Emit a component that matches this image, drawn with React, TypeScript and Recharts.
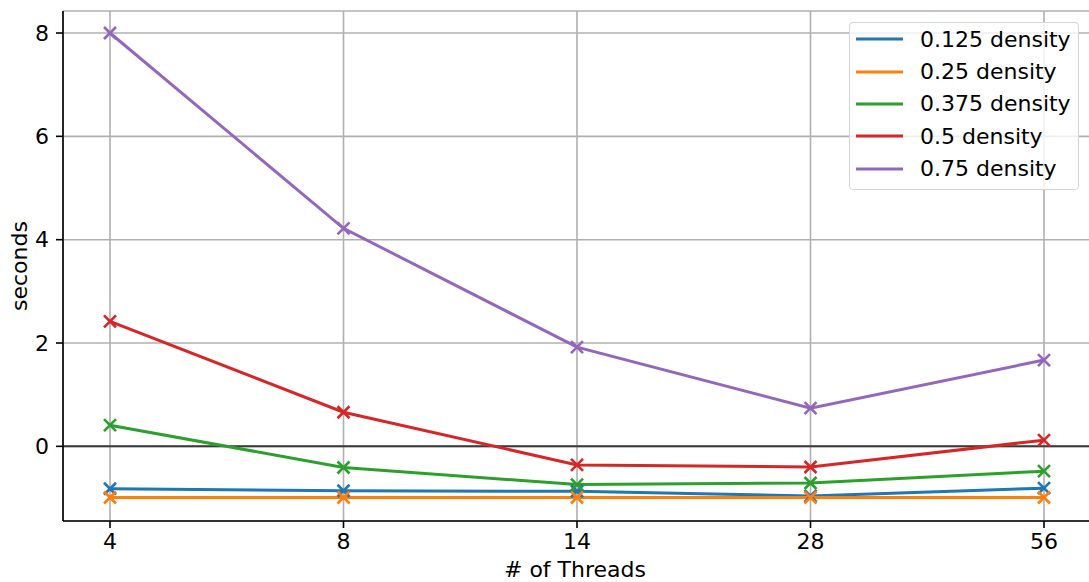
import { CartesianGrid, Legend, Line, LineChart, ReferenceLine, XAxis, YAxis } from "recharts";

const threads = ["4", "8", "14", "28", "56"];
const density0125 = [-0.82, -0.86, -0.87, -0.96, -0.81];
const density025 = [-0.99, -0.99, -0.99, -0.99, -0.99];
const density0375 = [0.41, -0.41, -0.74, -0.71, -0.48];
const density05 = [2.42, 0.66, -0.36, -0.4, 0.12];
const density075 = [8.0, 4.22, 1.92, 0.74, 1.67];
const yTicks = [0, 2, 4, 6, 8];

const series = [
    { key: "d0125", name: "0.125 density", color: "#1f77b4", values: density0125 },
    { key: "d025", name: "0.25 density", color: "#ff7f0e", values: density025 },
    { key: "d0375", name: "0.375 density", color: "#2ca02c", values: density0375 },
    { key: "d05", name: "0.5 density", color: "#d62728", values: density05 },
    { key: "d075", name: "0.75 density", color: "#9467bd", values: density075 },
];

const data = threads.map((t, i) => {
    const row: any = { t };
    series.forEach(s => (row[s.key] = s.values[i]));
    return row;
});

const FONT = "DejaVu Sans, sans-serif";
const FS = 22;

const XMark = (color: string) => (props: any) => {
    const { cx, cy, index } = props;
    if (cx == null || cy == null) return <g key={index} />;
    const r = 6;
    return (
        <g key={index} stroke={color} strokeWidth={2.6}>
            <line x1={cx - r} y1={cy - r} x2={cx + r} y2={cy + r} />
            <line x1={cx - r} y1={cy + r} x2={cx + r} y2={cy - r} />
        </g>
    );
};

const renderLegend = () => (
    <div
        style={{
            background: "rgba(255,255,255,0.8)",
            border: "1px solid #d5d5d5",
            borderRadius: 4,
            paddingBottom: 4,
            fontFamily: FONT,
            fontSize: FS,
            color: "#000",
            boxSizing: "border-box",
            width: 230,
        }}
    >
        {series.map(s => (
            <div key={s.key} style={{ display: "flex", alignItems: "center", height: 32.4 }}>
                <svg width={70} height={10} style={{ display: "block", flex: "none" }}>
                    <line x1={6} y1={5} x2={53} y2={5} stroke={s.color} strokeWidth={3} />
                </svg>
                <span style={{ whiteSpace: "nowrap" }}>{s.name}</span>
            </div>
        ))}
    </div>
);

export default function App() {
    return (
        <div style={{ position: "absolute", left: 0, top: 0, width: 1089, height: 582, overflow: "hidden" }}>
            <LineChart
                width={1092}
                height={582}
                data={data}
                margin={{ top: 11, right: 1, left: 0, bottom: 0 }}
            >
                <CartesianGrid stroke="#b0b0b0" strokeWidth={1.6} />
                <XAxis
                    dataKey="t"
                    type="category"
                    padding={{ left: 47, right: 47 }}
                    height={61}
                    tickSize={7}
                    tickMargin={5}
                    stroke="#000"
                    axisLine={{ stroke: "#000", strokeWidth: 1.6 }}
                    tickLine={{ stroke: "#000", strokeWidth: 1.6 }}
                    tick={{ fill: "#000", fontSize: FS, fontFamily: FONT }}
                    interval={0}
                    label={(p: any) => (
                        <text
                            x={p.viewBox.x + p.viewBox.width / 2 - 2}
                            y={577}
                            textAnchor="middle"
                            fontFamily={FONT}
                            fontSize={FS}
                            fill="#000"
                        >
                            # of Threads
                        </text>
                    )}
                />
                <XAxis xAxisId="top" dataKey="t" orientation="top" height={0} tick={false} tickLine={false}
                    axisLine={{ stroke: "#000", strokeWidth: 1.6 }} padding={{ left: 47, right: 47 }} />
                <YAxis
                    type="number"
                    domain={[-1.445, 8.426]}
                    ticks={yTicks}
                    width={63}
                    tickSize={7}
                    tickMargin={7}
                    allowDataOverflow
                    axisLine={{ stroke: "#000", strokeWidth: 1.6 }}
                    tickLine={{ stroke: "#000", strokeWidth: 1.6 }}
                    tick={{ fill: "#000", fontSize: FS, fontFamily: FONT }}
                    label={(p: any) => (
                        <text
                            x={19}
                            y={p.viewBox.y + p.viewBox.height / 2}
                            transform={`rotate(-90 19 ${p.viewBox.y + p.viewBox.height / 2})`}
                            textAnchor="middle"
                            dominantBaseline="central"
                            fontFamily={FONT}
                            fontSize={FS}
                            fill="#000"
                        >
                            seconds
                        </text>
                    )}
                />
                <YAxis yAxisId="right" orientation="right" width={0} tick={false} tickLine={false}
                    domain={[-1.445, 8.426]} axisLine={{ stroke: "#000", strokeWidth: 1.6 }} />
                <ReferenceLine y={0} stroke="#3a3a3a" strokeWidth={2} />
                {series.map(s => (
                    <Line
                        key={s.key}
                        type="linear"
                        dataKey={s.key}
                        name={s.name}
                        stroke={s.color}
                        strokeWidth={3}
                        dot={XMark(s.color)}
                        activeDot={false}
                        isAnimationActive={false}
                    />
                ))}
                <Legend
                    layout="vertical"
                    align="center"
                    verticalAlign="middle"
                    content={renderLegend}
                    wrapperStyle={{ top: 22, left: 849, width: 230, right: "auto", bottom: "auto" }}
                />
            </LineChart>
        </div>
    );
}
